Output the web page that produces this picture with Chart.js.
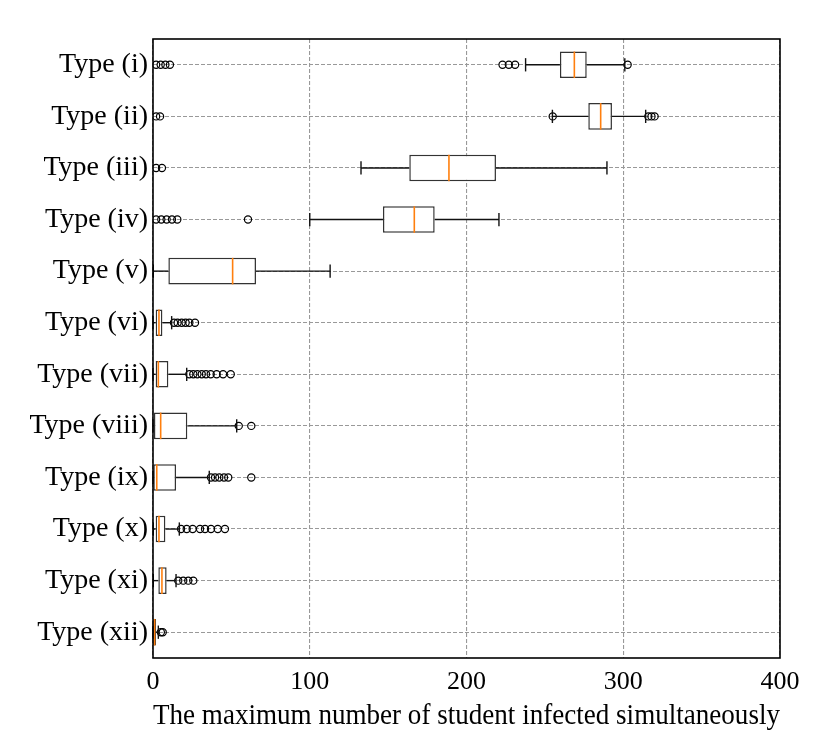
<!DOCTYPE html>
<html>
<head>
<meta charset="utf-8">
<script src="https://cdn.jsdelivr.net/npm/chart.js@4.4.1/dist/chart.umd.min.js"></script>
<style>
  html, body { margin: 0; padding: 0; background: #fff; }
</style>
</head>
<body>
<canvas id="chart" width="830" height="747"></canvas>
<script>
const categories = ['Type (i)', 'Type (ii)', 'Type (iii)', 'Type (iv)', 'Type (v)', 'Type (vi)',
  'Type (vii)', 'Type (viii)', 'Type (ix)', 'Type (x)', 'Type (xi)', 'Type (xii)'];
const whiskerLow  = [237.7, 254.8, 132.7, 100.0, 0.2, 0, 0, 0, 0, 0.2, 0.2, 0];
const q1          = [259.6, 277.7, 163.5, 146.7, 9.8, 1.7, 1.7, 0.6, 0.2, 1.7, 3.4, 0.2];
const median      = [268.8, 285.6, 188.8, 166.7, 50.8, 3.8, 3.4, 4.9, 2.4, 3.8, 5.7, 1.0];
const q3          = [276.7, 292.8, 218.8, 179.7, 65.7, 6.0, 9.8, 21.9, 14.7, 7.9, 8.7, 1.9];
const whiskerHigh = [301.0, 314.3, 289.6, 220.7, 113.0, 11.9, 21.5, 53.4, 35.9, 16.8, 14.7, 3.4];
const outliers = [
  [2, 4.9, 7.9, 10.8, 223, 227, 231, 302.8],
  [2, 4.5, 255, 316, 318, 320],
  [2, 5.7],
  [2, 5.3, 8.7, 12.1, 15.5, 60.6],
  [],
  [13.4, 15.7, 18.3, 20.8, 23.2, 26.8],
  [23.2, 25.7, 28.3, 31.1, 33.8, 36.8, 40.6, 44.7, 49.6],
  [54.7, 62.7],
  [37, 39.6, 42.3, 45.3, 48, 62.7],
  [17.9, 21.5, 25.3, 30, 33.2, 37, 41.3, 45.9],
  [16.1, 19.3, 22.5, 25.7],
  [5, 6.2]
];
const xMin = 0, xMax = 400, xStep = 100;

const FONT = "'Liberation Serif', 'Times New Roman', serif";

// whiskers, caps, medians and the frame around the plot
const boxPlotExtras = {
  id: 'boxPlotExtras',
  afterDatasetsDraw(chart) {
    const { ctx, chartArea, scales: { x, y } } = chart;
    const meta = chart.getDatasetMeta(0);
    const seg = (x1, y1, x2, y2) => { ctx.beginPath(); ctx.moveTo(x1, y1); ctx.lineTo(x2, y2); ctx.stroke(); };
    ctx.save();
    categories.forEach((c, i) => {
      const cy = y.getPixelForValue(i);
      const half = meta.data[i].getProps(['height'], true).height / 2;
      const lo = x.getPixelForValue(whiskerLow[i]);
      const hi = x.getPixelForValue(whiskerHigh[i]);
      ctx.strokeStyle = '#111';
      ctx.lineWidth = 1.4;
      seg(lo, cy, x.getPixelForValue(q1[i]), cy);
      seg(x.getPixelForValue(q3[i]), cy, hi, cy);
      seg(lo, cy - half / 2, lo, cy + half / 2);
      seg(hi, cy - half / 2, hi, cy + half / 2);
      ctx.strokeStyle = '#ff7f0e';
      ctx.lineWidth = 1.6;
      const m = x.getPixelForValue(median[i]);
      seg(m, cy - half, m, cy + half);
    });
    ctx.strokeStyle = '#000';
    ctx.lineWidth = 1.6;
    ctx.strokeRect(chartArea.left, chartArea.top, chartArea.right - chartArea.left, chartArea.bottom - chartArea.top);
    ctx.restore();
  }
};

const outlierPoints = [];
outliers.forEach((list, i) => list.forEach(v => outlierPoints.push({ x: v, y: categories[i] })));

new Chart(document.getElementById('chart'), {
  type: 'bar',
  data: {
    labels: categories,
    datasets: [
      {
        label: 'box',
        data: q1.map((v, i) => [v, q3[i]]),
        backgroundColor: '#fff',
        borderColor: '#333',
        borderWidth: 1.5,
        borderSkipped: false,
        barPercentage: 0.515,
        categoryPercentage: 1
      },
      {
        type: 'scatter',
        label: 'outliers',
        data: outlierPoints,
        xAxisID: 'x',
        yAxisID: 'y',
        pointRadius: 3.6,
        pointBackgroundColor: 'rgba(255,255,255,0)',
        pointBorderColor: '#000',
        pointBorderWidth: 1.2
      }
    ]
  },
  options: {
    indexAxis: 'y',
    responsive: false,
    animation: false,
    layout: { padding: { top: 39, right: 50, left: 0, bottom: 0 } },
    plugins: { legend: { display: false }, tooltip: { enabled: false } },
    scales: {
      x: {
        type: 'linear',
        min: xMin,
        max: xMax,
        afterFit: (s) => { s.height = 89; },
        ticks: { stepSize: xStep, color: '#000', padding: 9, font: { family: FONT, size: 26 } },
        grid: { color: '#999', lineWidth: 1.1, drawTicks: false },
        border: { display: false, dash: [4, 2] },
        title: {
          display: true,
          text: 'The maximum number of student infected simultaneously',
          color: '#000',
          font: { family: FONT, size: 28.6 },
          padding: { top: 0, bottom: 13 }
        }
      },
      y: {
        type: 'category',
        offset: true,
        afterFit: (s) => { s.width = 153; },
        ticks: { color: '#000', padding: 5, font: { family: FONT, size: 28 } },
        grid: { color: '#999', lineWidth: 1.1, drawTicks: false, offset: false },
        border: { display: false, dash: [4, 2] }
      }
    }
  },
  plugins: [boxPlotExtras]
});
</script>
</body>
</html>
